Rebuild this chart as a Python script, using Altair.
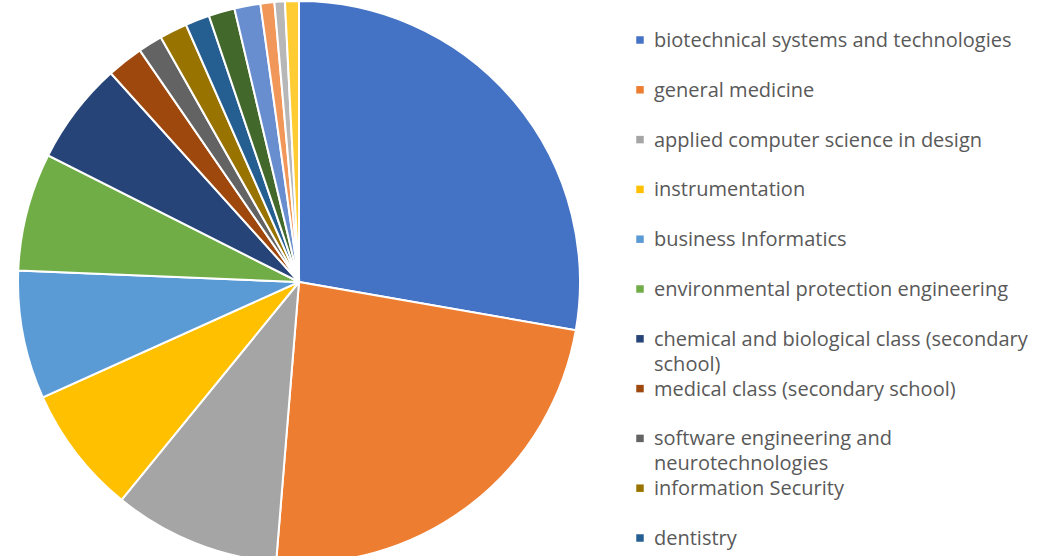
import altair as alt
import pandas as pd

# Slices in clockwise order from 12 o'clock (percent of total)
categories = [
    "biotechnical systems and technologies",
    "general medicine",
    "applied computer science in design",
    "instrumentation",
    "business Informatics",
    "environmental protection engineering",
    "chemical and biological class (secondary school)",
    "medical class (secondary school)",
    "software engineering and neurotechnologies",
    "information Security",
    "dentistry",
    "other 12",
    "other 13",
    "other 14",
    "other 15",
    "other 16",
]
shares = [27.8, 23.6, 9.6, 7.4, 7.4, 6.8, 5.9, 2.1, 1.4, 1.6, 1.4, 1.5, 1.5, 0.8, 0.6, 0.8]
colors = ["#4472C4", "#ED7D31", "#A5A5A5", "#FFC000", "#5B9BD5", "#70AD47",
          "#264478", "#9E480E", "#636363", "#997300", "#255E91", "#43682B",
          "#698ED0", "#F1975A", "#B7B7B7", "#FFCD33"]

# Legend (only the first 11 entries are visible in the reference)
legend_labels = [
    "biotechnical systems and technologies",
    "general medicine",
    "applied computer science in design",
    "instrumentation",
    "business Informatics",
    "environmental protection engineering",
    "chemical and biological class (secondary\nschool)",
    "medical class (secondary school)",
    "software engineering and\nneurotechnologies",
    "information Security",
    "dentistry",
]

pie_df = pd.DataFrame({"category": categories, "share": shares, "idx": list(range(len(categories)))})
legend_df = pd.DataFrame({
    "row": list(range(len(legend_labels))),
    "label": legend_labels,
    "category": categories[:len(legend_labels)],
})

color_scale = alt.Scale(domain=categories, range=colors)

pie = alt.Chart(pie_df).mark_arc(outerRadius=281, stroke="white", strokeWidth=2).encode(
    theta=alt.Theta("share:Q", stack=True),
    color=alt.Color("category:N", scale=color_scale, legend=None),
    order=alt.Order("idx:Q"),
    x=alt.value(299),
    y=alt.value(282),
)

ypos = alt.Y("row:Q", scale=alt.Scale(domain=[0, 10], range=[40, 538]), axis=None)

squares = alt.Chart(legend_df).mark_square(size=56, opacity=1).encode(
    x=alt.value(640),
    y=ypos,
    color=alt.Color("category:N", scale=color_scale, legend=None),
)

texts = alt.Chart(legend_df).mark_text(
    align="left", baseline="alphabetic", dy=7, font="Open Sans", fontSize=20,
    color="#595959", lineBreak="\n", lineHeight=25,
).encode(
    x=alt.value(654),
    y=ypos,
    text="label:N",
)

chart = alt.layer(pie, squares, texts).properties(
    width=1049, height=556, padding=0,
    autosize=alt.AutoSizeParams(type="none"),
    background="white",
).configure_view(stroke=None)

chart.save("out.html", embed_options={"renderer": "svg", "actions": False})
